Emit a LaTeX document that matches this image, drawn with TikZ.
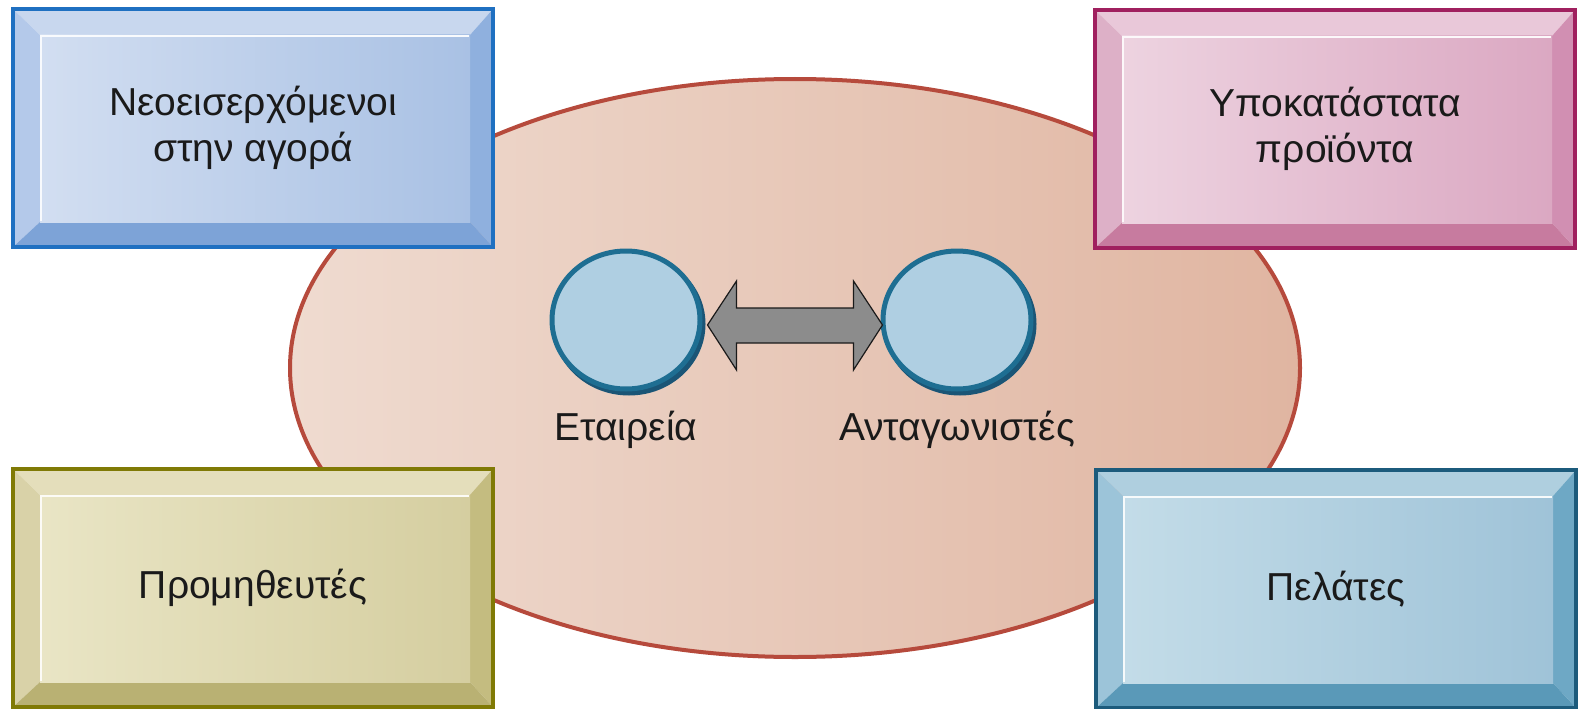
\documentclass[tikz,border=0pt]{standalone}
\usepackage{fontspec}
\setmainfont{Liberation Sans}
\usepackage{xcolor}
\usepackage{tikz}
\usetikzlibrary{positioning,shapes.geometric,calc}

% box colours: edge, face left/right, bevels top/left/right/bottom
\definecolor{blueE}{HTML}{1F70C1}
\definecolor{blueA}{HTML}{D2DEF1}
\definecolor{blueB}{HTML}{A9C1E4}
\definecolor{blueT}{HTML}{C8D7EE}
\definecolor{blueL}{HTML}{B4C9EA}
\definecolor{blueR}{HTML}{8FB0DE}
\definecolor{blueD}{HTML}{7DA3D7}
\definecolor{pinkE}{HTML}{A0205F}
\definecolor{pinkA}{HTML}{EDD3E0}
\definecolor{pinkB}{HTML}{DBA8C2}
\definecolor{pinkT}{HTML}{E9C8D9}
\definecolor{pinkL}{HTML}{DDB0C7}
\definecolor{pinkR}{HTML}{D18FB2}
\definecolor{pinkD}{HTML}{C77B9F}
\definecolor{oliveE}{HTML}{807A05}
\definecolor{oliveA}{HTML}{E9E5C5}
\definecolor{oliveB}{HTML}{D5CEA0}
\definecolor{oliveT}{HTML}{E4DEBB}
\definecolor{oliveL}{HTML}{D9D2A8}
\definecolor{oliveR}{HTML}{C4BC80}
\definecolor{oliveD}{HTML}{B9B173}
\definecolor{tealE}{HTML}{1C5B7C}
\definecolor{tealA}{HTML}{C3DCE8}
\definecolor{tealB}{HTML}{9FC3D8}
\definecolor{tealT}{HTML}{AFCFDF}
\definecolor{tealL}{HTML}{9CC4D9}
\definecolor{tealR}{HTML}{6EA8C5}
\definecolor{tealD}{HTML}{5A99B8}
% centre
\definecolor{ovalE}{HTML}{B64A3C}
\definecolor{ovalA}{HTML}{EFDBD0}
\definecolor{ovalB}{HTML}{E0B5A1}
\definecolor{discF}{HTML}{AFCFE2}
\definecolor{discE}{HTML}{1E6E92}
\definecolor{discS}{HTML}{1A5576}
\definecolor{twoF}{HTML}{8C8C8C}
\definecolor{inkc}{HTML}{1A1A1A}

\begin{document}
\begin{tikzpicture}[x=1pt, y=-1pt,
		txt/.style={text=inkc, inner sep=0pt, align=center, font=\fontsize{39}{46}\selectfont},
		disc/.style={ellipse, minimum width=148, minimum height=138, inner sep=0pt,
			fill=discF, draw=discE, line width=5,
			preaction={fill=discS, draw=discS, transform canvas={shift={(3pt,-4pt)}}}},
		twoway/.style={fill=twoF, draw=inkc, line width=1.2, line join=miter}]
	\useasboundingbox (0,0) rectangle (1580,709);
	% market oval
	\draw[left color=ovalA, right color=ovalB, draw=ovalE, line width=4]
		(795,368) ellipse [x radius=505, y radius=289];
	% bevelled boxes
	\foreach \nm/\xa/\ya/\c/\txt in {entry/13/9/blue/{Νεοεισερχόμενοι\\στην αγορά},
			subst/1095/10/pink/{Υποκατάστατα\\προϊόντα},
			suppl/13/469/olive/{Προμηθευτές},
			buyer/1096/470/teal/{Πελάτες}}{
		\fill[\c T] (\xa,\ya) -- (\xa+480,\ya) -- (\xa+457,\ya+26) -- (\xa+27,\ya+26) -- cycle;
		\fill[\c L] (\xa,\ya) -- (\xa+27,\ya+26) -- (\xa+27,\ya+213) -- (\xa,\ya+238) -- cycle;
		\fill[\c R] (\xa+480,\ya) -- (\xa+480,\ya+238) -- (\xa+457,\ya+213) -- (\xa+457,\ya+26) -- cycle;
		\fill[\c D] (\xa,\ya+238) -- (\xa+27,\ya+213) -- (\xa+457,\ya+213) -- (\xa+480,\ya+238) -- cycle;
		\shade[left color=\c A, right color=\c B] (\xa+27,\ya+26) rectangle (\xa+457,\ya+213);
		\draw[white!85!\c A, line width=2] (\xa+28,\ya+212) -- (\xa+28,\ya+27) -- (\xa+456,\ya+27);
		\draw[\c E, line width=4] (\xa,\ya) rectangle (\xa+480,\ya+238);
		\node[txt] (\nm) at (\xa+240,\ya+119) {\txt};
	}
	% firm and rivals
	\node[disc] (firm) at (626,320) {};
	\node[disc] (rival) at (957,320) {};
	\node[txt, below=19pt of firm] (firmlbl) {Εταιρεία};
	\node[txt, below=19pt of rival] (rivallbl) {Ανταγωνιστές};
	% two-way arrow
	\coordinate (ltip) at ([xshift=5pt,yshift=-5pt]firm.east);
	\coordinate (rtip) at ([xshift=2pt,yshift=-5pt]rival.west);
	\draw[twoway] (ltip) -- ++(29,-44) -- ++(0,27) -- ($(rtip)+(-29,-17)$) -- ++(0,-27)
		-- (rtip) -- ++(-29,45) -- ++(0,-27) -- ($(ltip)+(29,18)$) -- ++(0,27) -- cycle;
\end{tikzpicture}
\end{document}
